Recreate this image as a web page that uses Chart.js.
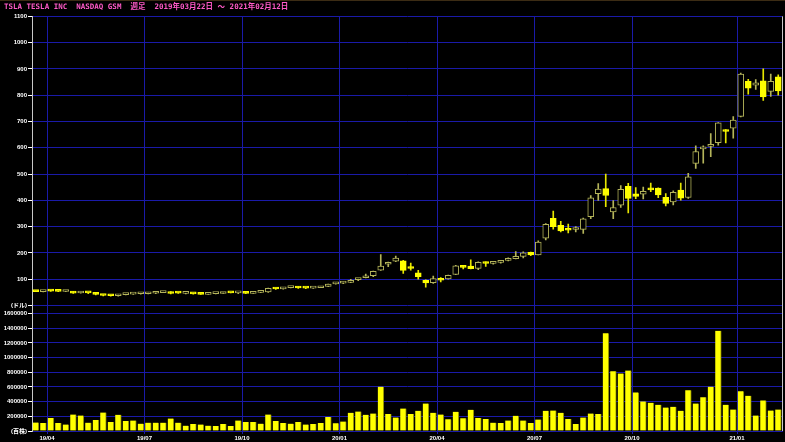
<!DOCTYPE html>
<html>
<head>
<meta charset="utf-8">
<script src="https://cdn.jsdelivr.net/npm/chart.js@4/dist/chart.umd.min.js"></script>
<style>
  html, body { margin: 0; padding: 0; background: #000; }
  canvas { display: block; }
</style>
</head>
<body>
<canvas id="chart" width="785" height="442"></canvas>
<script>
const titleText = 'TSLA TESLA INC  NASDAQ GSM  週足  2019年03月22日 ～ 2021年02月12日';

// weekly bars (Friday of each week)
const weeks = [
  '2019-03-22','2019-03-29','2019-04-05','2019-04-12','2019-04-18','2019-04-26','2019-05-03','2019-05-10','2019-05-17','2019-05-24',
  '2019-05-31','2019-06-07','2019-06-14','2019-06-21','2019-06-28','2019-07-05','2019-07-12','2019-07-19','2019-07-26','2019-08-02',
  '2019-08-09','2019-08-16','2019-08-23','2019-08-30','2019-09-06','2019-09-13','2019-09-20','2019-09-27','2019-10-04','2019-10-11',
  '2019-10-18','2019-10-25','2019-11-01','2019-11-08','2019-11-15','2019-11-22','2019-11-29','2019-12-06','2019-12-13','2019-12-20',
  '2019-12-27','2020-01-03','2020-01-10','2020-01-17','2020-01-24','2020-01-31','2020-02-07','2020-02-14','2020-02-21','2020-02-28',
  '2020-03-06','2020-03-13','2020-03-20','2020-03-27','2020-04-03','2020-04-09','2020-04-17','2020-04-24','2020-05-01','2020-05-08',
  '2020-05-15','2020-05-22','2020-05-29','2020-06-05','2020-06-12','2020-06-19','2020-06-26','2020-07-02','2020-07-10','2020-07-17',
  '2020-07-24','2020-07-31','2020-08-07','2020-08-14','2020-08-21','2020-08-28','2020-09-04','2020-09-11','2020-09-18','2020-09-25',
  '2020-10-02','2020-10-09','2020-10-16','2020-10-23','2020-10-30','2020-11-06','2020-11-13','2020-11-20','2020-11-27','2020-12-04',
  '2020-12-11','2020-12-18','2020-12-24','2020-12-31','2021-01-08','2021-01-15','2021-01-22','2021-01-29','2021-02-05','2021-02-12'
];

const open = [
  55.1, 52.6, 57.0, 55.0, 53.3, 52.5, 47.6, 48.8, 45.8, 40.6,
  37.7, 37.2, 41.2, 43.2, 44.6, 44.8, 46.6, 49.1, 52.0, 48.6,
  46.1, 47.0, 44.1, 42.5, 45.0, 45.8, 49.2, 48.0, 48.6, 46.4,
  49.8, 51.8, 65.4, 63.0, 68.0, 71.0, 67.0, 66.4, 67.7, 72.4,
  82.0, 84.9, 88.1, 98.7, 105.6, 113.8, 134.0, 157.0, 168.6, 169.8,
  142.3, 124.0, 96.0, 86.7, 101.0, 101.0, 118.0, 146.0, 149.6, 141.0,
  163.0, 160.0, 164.0, 171.5, 177.7, 187.0, 202.0, 192.5, 256.0, 331.8,
  305.0, 287.0, 289.0, 289.6, 337.6, 425.3, 444.6, 356.0, 381.9, 453.1,
  424.6, 423.8, 442.0, 446.2, 411.0, 394.0, 439.5, 410.9, 540.4, 596.0,
  605.0, 619.0, 669.0, 674.5, 719.5, 852.8, 837.8, 855.0, 814.3, 869.7
];
const high = [
  55.8, 56.3, 58.0, 55.3, 55.0, 53.8, 51.8, 49.5, 47.0, 41.0,
  39.2, 41.4, 45.4, 45.0, 46.9, 49.0, 50.0, 52.8, 53.0, 49.1,
  48.0, 47.2, 45.3, 45.7, 46.0, 50.0, 49.6, 49.2, 49.0, 50.0,
  52.0, 66.0, 66.0, 68.4, 70.8, 72.2, 67.6, 67.6, 72.0, 81.4,
  87.0, 90.8, 99.7, 103.1, 119.9, 130.6, 193.8, 165.6, 188.0, 172.0,
  161.4, 133.6, 98.0, 111.8, 106.0, 116.0, 153.0, 152.0, 174.0, 166.0,
  166.0, 166.0, 170.0, 181.0, 205.5, 204.0, 203.0, 246.0, 312.0, 359.0,
  320.0, 310.0, 300.0, 333.0, 418.0, 463.7, 500.1, 399.0, 456.0, 465.0,
  448.9, 450.0, 465.9, 448.0, 425.8, 436.4, 465.9, 502.5, 607.0, 607.8,
  654.3, 695.5, 669.0, 718.7, 884.5, 859.9, 859.0, 900.4, 880.5, 877.8
];
const low = [
  52.3, 52.1, 53.7, 52.6, 52.5, 46.2, 47.0, 45.4, 40.3, 36.8,
  35.4, 35.4, 40.6, 42.5, 43.3, 44.3, 45.2, 49.0, 44.3, 46.2,
  44.5, 43.5, 42.2, 42.0, 44.2, 45.6, 47.6, 44.7, 44.9, 45.6,
  49.2, 50.0, 61.0, 62.3, 67.2, 65.2, 63.8, 65.2, 67.5, 72.0,
  81.3, 83.2, 87.0, 94.7, 104.5, 110.0, 133.6, 147.7, 167.0, 121.6,
  134.8, 100.4, 70.1, 84.0, 90.0, 100.0, 117.0, 139.0, 139.0, 136.0,
  149.0, 157.0, 161.0, 170.0, 177.0, 181.0, 190.0, 192.0, 249.0, 290.0,
  280.0, 276.0, 280.0, 274.0, 330.0, 400.0, 376.0, 329.9, 373.0, 352.5,
  406.0, 405.0, 433.0, 410.0, 379.1, 383.0, 401.0, 407.0, 521.0, 541.2,
  566.3, 610.0, 618.0, 636.0, 717.2, 803.6, 822.0, 780.1, 795.0, 800.0
];
const close = [
  52.9, 56.0, 55.0, 53.5, 54.7, 47.0, 51.0, 47.9, 42.2, 38.1,
  37.0, 40.9, 43.0, 44.4, 44.7, 46.6, 49.1, 51.6, 45.6, 46.9,
  47.0, 44.0, 42.3, 45.1, 45.5, 49.4, 48.1, 48.4, 46.3, 49.6,
  51.4, 65.6, 62.7, 67.4, 70.4, 66.6, 66.0, 67.2, 71.7, 81.1,
  86.1, 88.6, 95.6, 102.1, 113.0, 130.1, 149.6, 160.0, 180.2, 133.6,
  140.7, 109.3, 85.5, 102.9, 96.0, 114.6, 150.8, 145.0, 140.3, 163.9,
  159.8, 163.4, 167.0, 177.1, 187.1, 200.2, 192.0, 241.7, 308.9, 300.1,
  283.4, 286.2, 290.5, 330.1, 410.0, 442.7, 418.3, 372.7, 442.2, 407.3,
  415.1, 434.0, 439.7, 420.6, 388.0, 430.0, 408.5, 489.6, 585.8, 599.0,
  610.0, 695.0, 661.8, 705.7, 880.0, 826.2, 846.6, 793.5, 852.2, 816.1
];

// volume in hundreds of shares
const volume = [
  115000, 110000, 178000, 110000, 87000, 224000, 210000, 114000, 151000, 252000,
  124000, 220000, 137000, 142000, 100000, 114000, 114000, 114000, 169000, 114000,
  73000, 96000, 87000, 73000, 69000, 96000, 69000, 142000, 124000, 124000,
  100000, 224000, 137000, 110000, 100000, 124000, 87000, 96000, 110000, 192000,
  105000, 128000, 247000, 265000, 220000, 238000, 604000, 233000, 183000, 307000,
  233000, 275000, 375000, 247000, 224000, 160000, 261000, 174000, 288000, 178000,
  165000, 114000, 110000, 142000, 206000, 142000, 110000, 156000, 275000, 279000,
  247000, 165000, 96000, 183000, 238000, 233000, 1332000, 815000, 783000, 824000,
  526000, 403000, 384000, 357000, 320000, 330000, 275000, 554000, 375000, 458000,
  604000, 1364000, 357000, 293000, 540000, 480000, 210000, 416000, 279000, 293000
];

const priceTicks = [0, 100, 200, 300, 400, 500, 600, 700, 800, 900, 1000, 1100];
const volumeTicks = [0, 200000, 400000, 600000, 800000, 1000000, 1200000, 1400000, 1600000];

// quarter boundaries: first week of Jan/Apr/Jul/Oct
const monthTicks = [];
const monthLabels = [];
weeks.forEach((d, i) => {
  if (i === 0) return;
  const m = d.slice(5, 7);
  if (m !== weeks[i - 1].slice(5, 7) && ['01', '04', '07', '10'].includes(m)) {
    monthTicks.push(i - 0.5);
    monthLabels.push(d.slice(2, 4) + '/' + m);
  }
});

const gridBlue = '#1a1aa8';
const up = i => close[i] >= open[i];
const tickFont = { family: '"Liberation Sans", "Noto Sans CJK JP", sans-serif', size: 6, weight: 'bold' };

const frame = {
  id: 'frame',
  afterDraw(chart) {
    const { ctx, chartArea: a } = chart;
    ctx.save();
    ctx.strokeStyle = '#c8c8c8';
    ctx.lineWidth = 1;
    ctx.beginPath();
    ctx.moveTo(Math.round(a.right) + 0.5, a.top);
    ctx.lineTo(Math.round(a.right) + 0.5, a.bottom);
    ctx.stroke();
    ctx.fillStyle = '#3c2c14';
    ctx.fillRect(0, 0, chart.width, 1);
    ctx.restore();
  }
};

new Chart(document.getElementById('chart'), {
  type: 'bar',
  data: {
    datasets: [
      {
        label: 'body',
        yAxisID: 'price',
        order: 0,
        grouped: false,
        data: weeks.map((_, i) => ({ x: i, y: [open[i], close[i]] })),
        backgroundColor: c => up(c.dataIndex) ? '#000000' : '#ffff00',
        borderColor: c => up(c.dataIndex) ? '#b4b45a' : '#ffff00',
        borderWidth: 1,
        borderSkipped: false,
        barThickness: 6,
        minBarLength: 2
      },
      {
        label: 'wick',
        yAxisID: 'price',
        order: 1,
        grouped: false,
        data: weeks.map((_, i) => ({ x: i, y: [low[i], high[i]] })),
        backgroundColor: c => up(c.dataIndex) ? '#b4b45a' : '#e6e600',
        borderWidth: 0,
        barThickness: 1
      },
      {
        label: 'volume',
        yAxisID: 'vol',
        order: 2,
        grouped: false,
        data: weeks.map((_, i) => ({ x: i, y: volume[i] })),
        backgroundColor: '#ffff00',
        borderColor: '#8c8c00',
        borderWidth: { right: 1, left: 0, top: 0, bottom: 0 },
        borderSkipped: false,
        barThickness: 6
      }
    ]
  },
  options: {
    responsive: false,
    animation: false,
    layout: { padding: { left: 4, right: 3, top: 0, bottom: 0 } },
    plugins: {
      legend: { display: false },
      tooltip: { enabled: false },
      title: {
        display: true,
        text: titleText,
        align: 'start',
        color: '#ff5ac8',
        font: { family: '"DejaVu Sans Mono", "Noto Sans CJK JP", monospace', size: 7.5, weight: 'bold', lineHeight: 1 },
        padding: { top: 3.5, bottom: 5.3 }
      }
    },
    scales: {
      x: {
        type: 'linear',
        min: -0.5,
        max: 99.5,
        offset: false,
        afterBuildTicks: s => { s.ticks = monthTicks.map(v => ({ value: v })); },
        afterFit: s => { s.height = 11; },
        ticks: { autoSkip: false, maxRotation: 0, padding: 1, color: '#ffffff', font: tickFont,
                 callback: (v, i) => monthLabels[i] },
        grid: { color: gridBlue, tickLength: 3, offset: false },
        border: { color: gridBlue }
      },
      vol: {
        type: 'linear',
        position: 'left',
        stack: 'panes',
        stackWeight: 125.4,
        weight: 1,
        min: 0,
        max: 1709000,
        afterBuildTicks: s => { s.ticks = volumeTicks.map(v => ({ value: v })); },
        afterFit: s => { s.width = 28; },
        ticks: { autoSkip: false, color: '#ffffff', font: tickFont, padding: 1,
                 callback: v => v === 0 ? '(百株)' : String(v) },
        grid: { color: gridBlue, tickColor: '#ffffff', tickLength: 4 },
        border: { color: '#c8c8c8' }
      },
      price: {
        type: 'linear',
        position: 'left',
        stack: 'panes',
        stackWeight: 289,
        weight: 2,
        min: 0,
        max: 1100,
        afterBuildTicks: s => { s.ticks = priceTicks.map(v => ({ value: v })); },
        afterFit: s => { s.width = 28; },
        ticks: { autoSkip: false, color: '#ffffff', font: tickFont, padding: 1,
                 callback: v => v === 0 ? '(ドル)' : String(v) },
        grid: { color: gridBlue, tickColor: '#ffffff', tickLength: 4 },
        border: { color: '#c8c8c8' }
      }
    }
  },
  plugins: [frame]
});
</script>
</body>
</html>
